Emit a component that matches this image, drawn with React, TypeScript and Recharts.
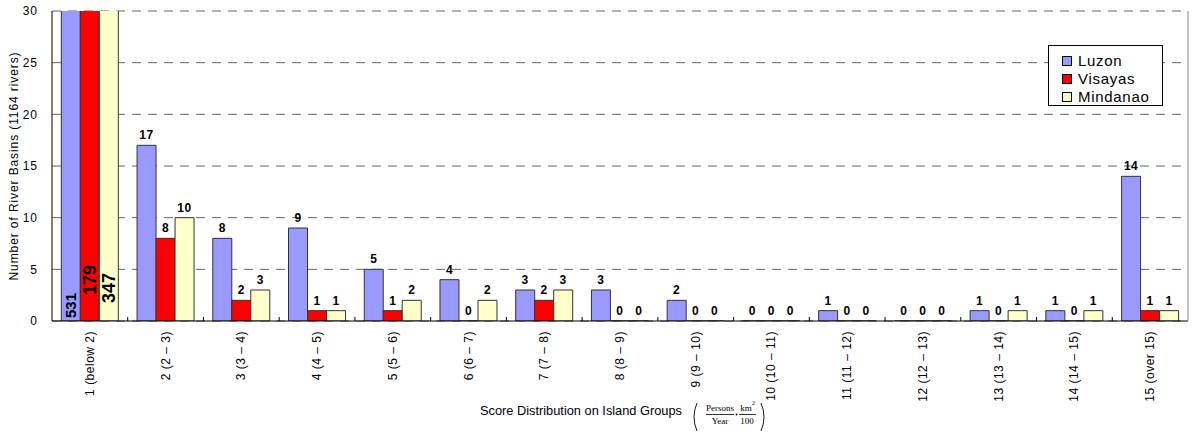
import { BarChart, Bar, XAxis, YAxis, CartesianGrid, LabelList, Label } from 'recharts';

const categories = [
  '1 (below 2)', '2 (2 – 3)', '3 (3 – 4)', '4 (4 – 5)', '5 (5 – 6)',
  '6 (6 – 7)', '7 (7 – 8)', '8 (8 – 9)', '9 (9 – 10)', '10 (10 – 11)',
  '11 (11 – 12)', '12 (12 – 13)', '13 (13 – 14)', '14 (14 – 15)', '15 (over 15)',
];
const luzon = [531, 17, 8, 9, 5, 4, 3, 3, 2, 0, 1, 0, 1, 1, 14];
const visayas = [179, 8, 2, 1, 1, 0, 2, 0, 0, 0, 0, 0, 0, 0, 1];
const mindanao = [347, 10, 3, 1, 2, 2, 3, 0, 0, 0, 0, 0, 1, 1, 1];
const yTicks = [0, 5, 10, 15, 20, 25, 30];

const series = [
  { key: 'Luzon', values: luzon, fill: '#9999ff', bigFont: 15, bigLift: 3 },
  { key: 'Visayas', values: visayas, fill: '#ff0000', bigFont: 18, bigLift: 26 },
  { key: 'Mindanao', values: mindanao, fill: '#ffffcc', bigFont: 18, bigLift: 18 },
];

const data = categories.map((name, i) => ({
  name,
  Luzon: luzon[i],
  Visayas: visayas[i],
  Mindanao: mindanao[i],
}));

const FONT = '"Liberation Sans", Arial, sans-serif';
const SERIF = '"Liberation Serif", "Times New Roman", serif';

function makeLabel(bigFont: number, bigLift: number) {
  return (props: any) => {
    const { x, y, width, height, value, index } = props;
    const cx = Number(x) + Number(width) / 2;
    if (index === 0) {
      const bottom = Number(y) + Number(height);
      const bx = cx + bigFont * 0.36;
      const by = bottom - bigLift;
      return (
        <text x={bx} y={by} transform={`rotate(-90 ${bx} ${by})`} textAnchor="start"
          fontFamily={FONT} fontWeight="bold" fontSize={bigFont} fill="#000">
          {value}
        </text>
      );
    }
    const top = Math.min(Number(y), Number(y) + Number(height));
    return (
      <text x={cx} y={top - 6} textAnchor="middle" fontFamily={FONT}
        fontWeight="bold" fontSize={12} letterSpacing={0.5} fill="#000">
        {value}
      </text>
    );
  };
}

// category label plus the small inward tick at the right edge of each band
const CategoryTick = (props: any) => {
  const { x, y, payload } = props;
  const axisY = y - 8;
  const edge = x + (payload.offset || 0);
  const ty = y + 2;
  return (
    <g>
      {payload.index < categories.length - 1 && (
        <line x1={edge} x2={edge} y1={axisY} y2={axisY - 4} stroke="#000" />
      )}
      <text x={x + 4} y={ty} transform={`rotate(-90 ${x + 4} ${ty})`} textAnchor="end"
        fontFamily={FONT} fontSize={12} letterSpacing={0.5} fill="#000">
        {payload.value}
      </text>
    </g>
  );
};

const XTitle = (props: any) => {
  const vb = props.viewBox;
  const c = vb.x + vb.width / 2;
  const b = 415;
  return (
    <g fill="#000">
      <text x={c + 62} y={b} textAnchor="end" fontFamily={FONT} fontSize={12.8}>
        Score Distribution on Island Groups
      </text>
      <path d={`M ${c + 77} 403 Q ${c + 71} 417 ${c + 77} 431`} fill="none" stroke="#000" strokeWidth={0.9} />
      <text x={c + 100} y={411} textAnchor="middle" fontFamily={SERIF} fontSize={9}>Persons</text>
      <line x1={c + 86} x2={c + 114} y1={414.5} y2={414.5} stroke="#000" strokeWidth={0.8} />
      <text x={c + 100} y={424} textAnchor="middle" fontFamily={SERIF} fontSize={9}>Year</text>
      <circle cx={c + 116.5} cy={414.5} r={0.9} />
      <text x={c + 126} y={411} textAnchor="middle" fontFamily={SERIF} fontSize={9}>km</text>
      <text x={c + 133.5} y={405} textAnchor="middle" fontFamily={SERIF} fontSize={6}>2</text>
      <line x1={c + 119} x2={c + 136} y1={414.5} y2={414.5} stroke="#000" strokeWidth={0.8} />
      <text x={c + 127} y={424} textAnchor="middle" fontFamily={SERIF} fontSize={9}>100</text>
      <path d={`M ${c + 141} 403 Q ${c + 147} 417 ${c + 141} 431`} fill="none" stroke="#000" strokeWidth={0.9} />
    </g>
  );
};

export default function App() {
  return (
    <div style={{ position: 'absolute', left: 0, top: 0, width: 1192, height: 432, background: '#fff' }}>
      <BarChart
        width={1192}
        height={432}
        data={data}
        margin={{ top: 11, right: 0, bottom: 0, left: 0 }}
        barCategoryGap="12.3%"
        barGap={0}
      >
        <CartesianGrid vertical={false} stroke="#666" strokeDasharray="9 7" />
        <XAxis
          dataKey="name"
          interval={0}
          height={111}
          tick={<CategoryTick />}
          tickLine={false}
          axisLine={{ stroke: '#000' }}
        >
          <Label content={<XTitle />} />
        </XAxis>
        <YAxis
          domain={[0, 30]}
          ticks={yTicks}
          allowDataOverflow
          width={52}
          tickLine={false}
          tickMargin={8}
          axisLine={{ stroke: '#000' }}
          tick={{ fontFamily: FONT, fontSize: 12, fill: '#000', letterSpacing: 1 }}
        >
          <Label
            value="Number of River Basins (1164 rivers)"
            angle={-90}
            position="insideLeft"
            offset={14}
            style={{ textAnchor: 'middle', fontFamily: FONT, fontSize: 12, fill: '#000', letterSpacing: 0.9 }}
          />
        </YAxis>
        <YAxis yAxisId="right" orientation="right" width={4} tick={false} tickLine={false}
          axisLine={{ stroke: '#888' }} />
        {series.map((s) => (
          <Bar key={s.key} dataKey={s.key} fill={s.fill} stroke="#333" strokeWidth={1}
            minPointSize={0.01} isAnimationActive={false}>
            <LabelList dataKey={s.key} content={makeLabel(s.bigFont, s.bigLift)} />
          </Bar>
        ))}
      </BarChart>
      <div
        style={{
          position: 'absolute', left: 1048, top: 45, width: 115, height: 61,
          border: '1px solid #000', background: '#fff', fontFamily: FONT, fontSize: 15,
          letterSpacing: 0.7, boxSizing: 'border-box', padding: '6px 0 0 13px', lineHeight: '18px',
        }}
      >
        {series.map((s) => (
          <div key={s.key} style={{ display: 'flex', alignItems: 'center' }}>
            <span style={{ display: 'inline-block', width: 10, height: 10, background: s.fill,
              border: '1px solid #000', boxSizing: 'border-box', marginRight: 6 }} />
            {s.key}
          </div>
        ))}
      </div>
    </div>
  );
}
